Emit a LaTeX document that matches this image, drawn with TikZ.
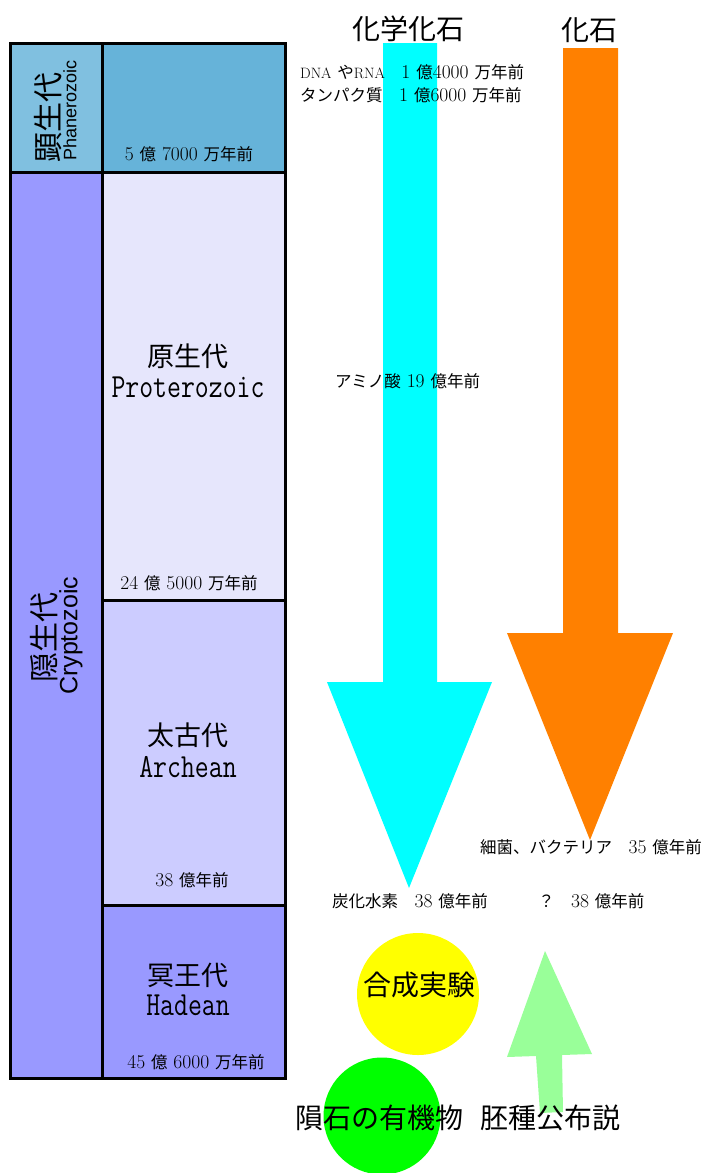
\documentclass[tikz,border=0pt]{standalone}
\usepackage{fontspec}
\newfontfamily\jp{Noto Sans CJK JP}
\newfontfamily\lsans{Liberation Sans}
\newcommand\J[1]{{\jp\fontsize{16.5}{19}\selectfont #1}}
\newcommand\LL[1]{{\fontsize{15}{19}\selectfont #1}}
\definecolor{phL}{HTML}{80C0E0}
\definecolor{phR}{HTML}{66B3D9}
\definecolor{prot}{HTML}{E6E6FC}
\definecolor{arch}{HTML}{CCCCFF}
\definecolor{hade}{HTML}{9999FF}
\definecolor{chem}{HTML}{00FFFF}
\definecolor{foss}{HTML}{FF8000}
\definecolor{syn}{HTML}{FFFF00}
\definecolor{met}{HTML}{00FF00}
\definecolor{pans}{HTML}{99FF99}
\begin{document}
\begin{tikzpicture}[x=1pt,y=-1pt,
  box/.style={draw=black,line width=3pt},
  small/.style={font=\fontsize{19.5}{21}\selectfont,inner sep=0pt},
  eraj/.style={font=\jp\fontsize{27}{30}\selectfont,inner sep=0pt},
  eral/.style={font=\ttfamily\fontsize{27}{30}\selectfont,inner sep=0pt,yscale=1.25},
  big/.style={font=\jp\fontsize{28}{32}\selectfont,inner sep=0pt},
  vert/.style={rotate=90,anchor=west,inner sep=0pt}]
\useasboundingbox (0,0) rectangle (704,1173);
% era table
\fill[phL] (10,43) rectangle (102,172);
\fill[hade] (10,172) rectangle (102,1078);
\fill[phR] (102,43) rectangle (285,172);
\fill[prot] (102,172) rectangle (285,600);
\fill[arch] (102,600) rectangle (285,905);
\fill[hade] (102,905) rectangle (285,1078);
\draw[box] (10,43) rectangle (285,1078);
\draw[box] (102,43) -- (102,1078);
\draw[box] (10,172) -- (285,172);
\draw[box] (102,600) -- (285,600);
\draw[box] (102,905) -- (285,905);
% vertical labels
\node[vert,font=\jp\fontsize{30}{32}\selectfont] (phj) at (48,163) {顕生代};
\node[vert,font=\lsans\fontsize{18}{20}\selectfont] (phe) at (70,161) {Phanerozoic};
\node[vert,font=\jp\fontsize{30}{32}\selectfont] (crj) at (44,683) {隠生代};
\node[vert,font=\lsans\fontsize{25}{27}\selectfont] (cre) at (71,695) {Cryptozoic};
% era names
\node[eraj] (protj) at (188,356) {原生代};
\node[eral] (prote) at (188,387) {Proterozoic};
\node[eraj] (archj) at (188,735) {太古代};
\node[eral] (arche) at (188,767) {Archean};
\node[eraj] (hadj) at (188,975) {冥王代};
\node[eral] (hade) at (188,1005) {Hadean};
% dates
\node[small] (d1) at (189,154) {5 \J{億} 7000 \J{万年前}};
\node[small] (d2) at (189,583) {24 \J{億} 5000 \J{万年前}};
\node[small] (d3) at (192,880) {38 \J{億年前}};
\node[small] (d4) at (196,1062) {45 \J{億} 6000 \J{万年前}};
% arrows
\fill[chem] (383,43) -- (437,43) -- (437,682) -- (492,682) -- (409,888) -- (327,682) -- (383,682) -- cycle;
\fill[foss] (563,48) -- (618,48) -- (618,633) -- (673,633) -- (590,840) -- (507,633) -- (563,633) -- cycle;
\fill[pans] (545,951) -- (592,1054) -- (562,1055) -- (563,1112) -- (540,1113) -- (536,1056) -- (507,1057) -- cycle;
% circles
\node[circle,fill=syn,minimum size=122pt,inner sep=0pt] (sync) at (418,994) {};
\node[circle,fill=met,minimum size=117pt,inner sep=0pt] (metc) at (382,1116) {};
% titles
\node[big] (t1) at (408,29) {化学化石};
\node[big] (t2) at (589,30) {化石};
% labels
\node[small,anchor=west] (l1) at (300,72) {\LL{DNA} \J{や}\LL{RNA}\J{　}1 \J{億}4000 \J{万年前}};
\node[small,anchor=west] (l2) at (300,95) {\J{タンパク質　}1 \J{億}6000 \J{万年前}};
\node[small,anchor=west] (l3) at (335,381) {\J{アミノ酸} 19 \J{億年前}};
\node[small,anchor=west] (l4) at (480,847) {\J{細菌、バクテリア　}35 \J{億年前}};
\node[small,anchor=west] (l5) at (332,901) {\J{炭化水素　}38 \J{億年前}};
\node[small,anchor=west] (l6) at (538,901) {\J{？　}38 \J{億年前}};
\node[big] (synt) at (419,985) {合成実験};
\node[big] (bot1) at (379,1118) {隕石の有機物};
\node[big] (bot2) at (550,1118) {胚種公布説};
\end{tikzpicture}
\end{document}
